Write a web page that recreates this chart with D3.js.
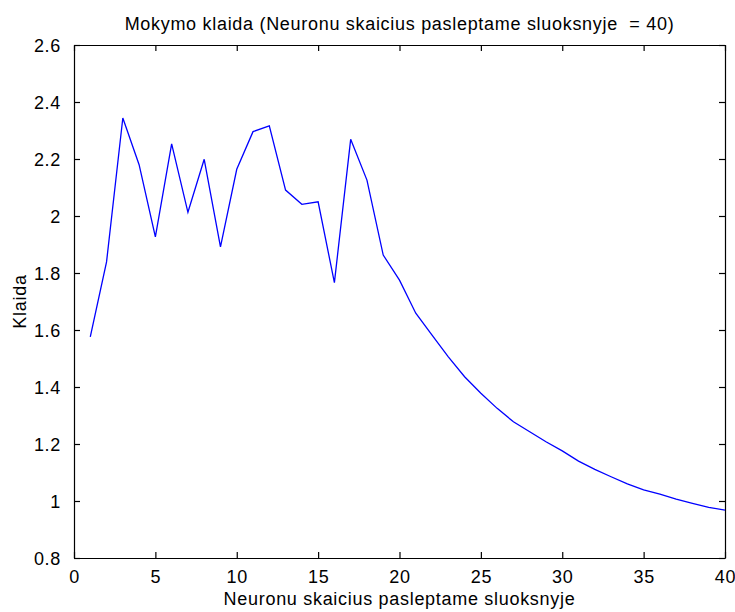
<!DOCTYPE html>
<html>
<head>
<meta charset="utf-8">
<script src="https://cdn.jsdelivr.net/npm/d3@7"></script>
<style>
  html, body { margin: 0; padding: 0; background: #fff; }
  svg text { font-family: "Liberation Sans", Arial, sans-serif; fill: #000; white-space: pre; }
</style>
</head>
<body>
<svg id="chart" width="735" height="612"></svg>
<script>
// Number of hidden-layer neurons (x) and training error (y)
const neurons = d3.range(1, 41);
const errors = [
  1.576, 1.839, 2.344, 2.18, 1.927, 2.253, 2.013, 2.199, 1.892, 2.164,
  2.296, 2.316, 2.091, 2.041, 2.050, 1.766, 2.269, 2.126, 1.863, 1.775,
  1.659, 1.582, 1.506, 1.436, 1.378, 1.325, 1.278, 1.243, 1.208, 1.176,
  1.140, 1.111, 1.085, 1.060, 1.039, 1.024, 1.007, 0.992, 0.978, 0.968
];
const xTicks = [0, 5, 10, 15, 20, 25, 30, 35, 40];
const yTicks = [0.8, 1, 1.2, 1.4, 1.6, 1.8, 2, 2.2, 2.4, 2.6];

const titleText = "Mokymo klaida (Neuronu skaicius pasleptame sluoksnyje  = 40)";
const xLabel = "Neuronu skaicius pasleptame sluoksnyje";
const yLabel = "Klaida";

const svg = d3.select("#chart");
const m = { left: 74, right: 10, top: 45, bottom: 54 };
const W = 735, H = 612;
const x0 = m.left, x1 = W - m.right, y0 = H - m.bottom, y1 = m.top;

const x = d3.scaleLinear().domain([0, 40]).range([x0, x1]);
const y = d3.scaleLinear().domain([0.8, 2.6]).range([y0, y1]);

const fmt = d => d3.format("~g")(d);
const tickLen = 6;
const fs = 18;
const ls = "0.7px";

// bottom axis, ticks pointing inward
const gx = svg.append("g").attr("transform", `translate(0,${y0})`)
  .call(d3.axisBottom(x).tickValues(xTicks).tickFormat(fmt).tickSizeInner(-tickLen).tickSizeOuter(0).tickPadding(tickLen + 6));
// top axis (box ticks, no labels)
const gxt = svg.append("g").attr("transform", `translate(0,${y1})`)
  .call(d3.axisTop(x).tickValues(xTicks).tickFormat("").tickSizeInner(-tickLen).tickSizeOuter(0));
// left axis
const gy = svg.append("g").attr("transform", `translate(${x0},0)`)
  .call(d3.axisLeft(y).tickValues(yTicks).tickFormat(fmt).tickSizeInner(-tickLen).tickSizeOuter(0).tickPadding(tickLen + 7));
// right axis
const gyr = svg.append("g").attr("transform", `translate(${x1},0)`)
  .call(d3.axisRight(y).tickValues(yTicks).tickFormat("").tickSizeInner(-tickLen).tickSizeOuter(0));

[gx, gxt, gy, gyr].forEach(g => {
  g.select(".domain").attr("stroke", "#000").attr("stroke-width", 1.2);
  g.selectAll(".tick line").attr("stroke", "#000").attr("stroke-width", 1.2);
  g.selectAll("text").attr("font-size", fs).attr("font-family", "Liberation Sans, Arial, sans-serif")
    .attr("fill", "#000").attr("letter-spacing", ls);
});
gy.selectAll(".tick text").attr("dy", "0.36em");
gx.selectAll(".tick text").attr("dy", "0.71em");

// data line
const line = d3.line().x((d, i) => x(neurons[i])).y(d => y(d));
svg.append("path")
  .datum(errors)
  .attr("fill", "none")
  .attr("stroke", "#0000ff")
  .attr("stroke-width", 1.3)
  .attr("stroke-linejoin", "miter")
  .attr("d", line);

// title and axis labels
svg.append("text")
  .attr("x", (x0 + x1) / 2).attr("y", 30)
  .attr("text-anchor", "middle").attr("font-size", fs).attr("letter-spacing", ls)
  .text(titleText);
svg.append("text")
  .attr("x", (x0 + x1) / 2).attr("y", 605)
  .attr("text-anchor", "middle").attr("font-size", fs).attr("letter-spacing", ls)
  .text(xLabel);
svg.append("text")
  .attr("transform", `translate(26,${(y0 + y1) / 2}) rotate(-90)`)
  .attr("text-anchor", "middle").attr("font-size", fs).attr("letter-spacing", ls)
  .text(yLabel);
</script>
</body>
</html>
